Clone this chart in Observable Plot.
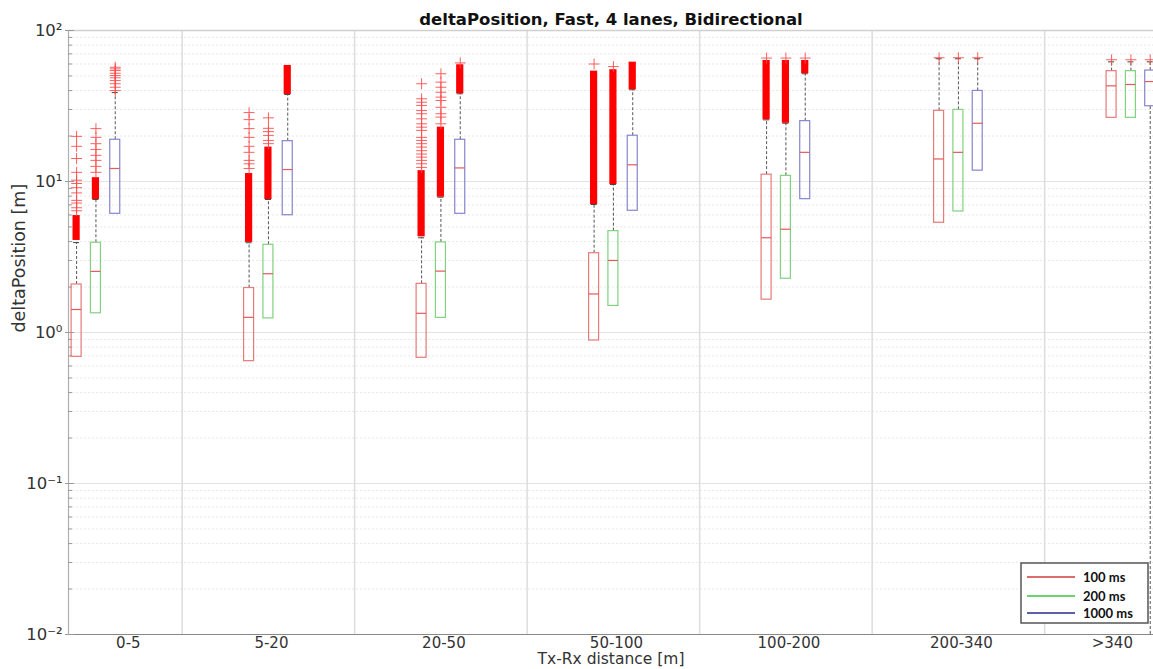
<!DOCTYPE html>
<html>
<head>
<meta charset="utf-8">
<script src="https://cdn.jsdelivr.net/npm/d3@7"></script>
<script src="https://cdn.jsdelivr.net/npm/@observablehq/plot@0.6"></script>
<style>
  body { margin: 0; background: #fff; }
  #chart { position: relative; width: 1153px; height: 669px; overflow: hidden; }
</style>
</head>
<body>
<div id="chart"></div>
<script>
// Distance bins and update intervals
const groups = ["0-5", "5-20", "20-50", "50-100", "100-200", "200-340", ">340"];
const series = ["100 ms", "200 ms", "1000 ms"];

// Box statistics per interval, one value per distance bin [m]
const q1_100  = [0.69, 0.646, 0.68, 0.885, 1.65, 5.33, 26.4];
const med_100 = [1.42, 1.26, 1.34, 1.80, 4.24, 14.1, 43.0];
const q3_100  = [2.08, 1.97, 2.10, 3.35, 11.1, 29.4, 53.8];
const lo_100  = [0.69, 0.646, 0.68, 0.885, 1.65, 5.33, 26.4];
const hi_100  = [3.94, 3.93, 4.24, 7.04, 25.6, 65.0, 62.0];

const q1_200  = [1.34, 1.24, 1.25, 1.50, 2.27, 6.33, 26.4];
const med_200 = [2.54, 2.45, 2.55, 3.00, 4.83, 15.6, 43.9];
const q3_200  = [3.93, 3.81, 3.95, 4.69, 10.9, 29.8, 53.8];
const lo_200  = [1.34, 1.24, 1.25, 1.50, 2.27, 6.33, 26.4];
const hi_200  = [7.6, 7.6, 7.87, 9.55, 24.3, 65.0, 62.0];

const q1_1000  = [6.11, 5.98, 6.11, 6.4, 7.64, 11.8, 31.5];
const med_1000 = [12.2, 12.0, 12.3, 12.9, 15.6, 24.3, 45.9];
const q3_1000  = [18.9, 18.5, 18.9, 20.1, 25.1, 39.8, 54.3];
const lo_1000  = [6.11, 5.98, 6.11, 6.4, 7.64, 11.8, 0.01];
const hi_1000  = [38.8, 37.7, 38.1, 40.5, 51.7, 65.0, 62.0];

// Ranges packed so densely with outliers that they read as a solid bar
const band_100  = [[4.07, 5.95], [3.95, 11.3], [4.3, 11.8], [7.04, 53.8], [25.6, 63.3], null, null];
const band_200  = [[7.6, 10.6], [7.6, 16.9], [7.87, 22.9], [9.55, 55.0], [24.3, 63.3], null, null];
const band_1000 = [null, [37.7, 58.7], [38.1, 59.3], [40.5, 61.7], [51.7, 63.3], null, null];

// Individual outliers
const out_100 = [
  [6.4, 6.7, 7.2, 7.5, 8.4, 9.1, 9.7, 10.2, 11.5, 14.2, 17.1, 19.9],
  [12.2, 13.1, 13.8, 15.6, 17.1, 19.6, 22.4, 25.7, 28.6],
  [12.4, 13.1, 13.8, 14.5, 15.2, 16.0, 16.9, 17.8, 18.7, 19.6, 21.8, 22.9, 24.1, 26.0, 28.1, 29.5, 31.9, 33.5, 35.3, 44.4],
  [60.0],
  [65.7],
  [66.0],
  [64.0]
];
const out_200 = [
  [11.5, 12.6, 13.8, 14.9, 16.3, 17.8, 19.6, 22.4],
  [17.8, 18.7, 20.2, 21.4, 22.5, 26.4],
  [24.1, 26.7, 28.1, 31.0, 34.4, 36.2, 39.0, 42.1, 45.5, 51.7],
  [57.7],
  [65.7],
  [66.0],
  [64.0]
];
const out_1000 = [
  [40.0, 42.1, 44.4, 46.6, 48.6, 50.3, 52.1, 54.3, 55.7, 57.1],
  [],
  [61.0],
  [],
  [65.7],
  [66.0],
  [64.0]
];

const yTicks = [0.01, 0.1, 1, 10, 100];

// ---- layout of the grouped boxes ----
const W = 1153, H = 669;
const mL = 68, mR = 0, mT = 30, mB = 35;
const xMin = -0.159, xMax = 6.131, axisEnd = 6.25;
const pxPerUnit = (W - mL - mR) / (xMax - xMin);
const u = px => px / pxPerUnit;
const offsets = [-0.112, 0, 0.112];
const boxColors = ["#e77a7a", "#7fd27f", "#8585cf"];
const legendColors = ["#d23b3b", "#3cc43c", "#2a2a8a"];

const stats = [
  {q1: q1_100, med: med_100, q3: q3_100, lo: lo_100, hi: hi_100, band: band_100, out: out_100},
  {q1: q1_200, med: med_200, q3: q3_200, lo: lo_200, hi: hi_200, band: band_200, out: out_200},
  {q1: q1_1000, med: med_1000, q3: q3_1000, lo: lo_1000, hi: hi_1000, band: band_1000, out: out_1000}
];

const boxes = [], bands = [], outliers = [];
stats.forEach((s, si) => {
  groups.forEach((g, gi) => {
    const x = gi + offsets[si];
    boxes.push({x, si, q1: s.q1[gi], med: s.med[gi], q3: s.q3[gi], lo: s.lo[gi], hi: s.hi[gi]});
    if (s.band[gi]) bands.push({x, lo: s.band[gi][0], hi: s.band[gi][1]});
    s.out[gi].forEach(v => outliers.push({x, v}));
  });
});

// Tick labels sit in the middle of each bin's visible span
const labels = groups.map((g, i) => ({
  g, x: (Math.max(i - 0.5, xMin) + Math.min(i + 0.5, axisEnd)) / 2 + u(3)
}));

const minor = [];
for (let k = -2; k < 2; k++) for (let m = 2; m <= 9; m++) minor.push(m * 10 ** k);
const separators = d3.range(0.5, 6, 1);

const sup = {"-": "\u207B", "0": "\u2070", "1": "\u00B9", "2": "\u00B2"};
const fmtPow = d => "10" + String(Math.round(Math.log10(d))).split("").map(c => sup[c]).join("");

const plot = Plot.plot({
  width: W, height: H,
  marginLeft: mL, marginRight: mR, marginTop: mT, marginBottom: mB,
  style: {fontFamily: "DejaVu Sans, sans-serif", background: "#fff", color: "#222"},
  x: {type: "linear", domain: [xMin, xMax], axis: null},
  y: {type: "log", domain: [0.01, 100], axis: null},
  marks: [
    // grid
    Plot.ruleY(minor, {stroke: "#e8e8e8", strokeDasharray: "2,2"}),
    Plot.ruleY(yTicks, {stroke: "#e3e3e3"}),
    Plot.ruleX(separators, {stroke: "#dddddd", strokeWidth: 1.5}),
    // axis lines
    Plot.ruleY([100], {stroke: "#d0d0d0", strokeWidth: 1.5}),
    Plot.ruleX([xMin], {stroke: "#b0b0b0", strokeWidth: 1.2}),
    Plot.ruleY([0.01], {stroke: "#888", strokeWidth: 1.2}),
    // inward ticks
    Plot.ruleY(minor, {x1: xMin, x2: xMin + u(4), stroke: "#999"}),
    Plot.ruleY(yTicks, {x1: xMin - u(3), x2: xMin + u(6), stroke: "#999"}),
    // whiskers
    Plot.ruleX(boxes, {x: "x", y1: "q3", y2: "hi", stroke: "#555", strokeDasharray: "3,2", clip: true}),
    Plot.ruleX(boxes.filter(d => d.lo < d.q1), {x: "x", y1: "lo", y2: "q1", stroke: "#555", strokeDasharray: "3,2", clip: true}),
    Plot.ruleY(boxes, {y: "hi", x1: d => d.x - u(3), x2: d => d.x + u(3), stroke: "#444", clip: true}),
    // dense outlier runs
    Plot.rect(bands, {x1: d => d.x - u(3.6), x2: d => d.x + u(3.6), y1: "lo", y2: "hi", fill: "#ff0000", clip: true}),
    // individual outliers
    Plot.dot(outliers, {x: "x", y: "v", symbol: "plus", r: 3.6, stroke: "#ff4d4d", strokeWidth: 0.9, clip: true}),
    // boxes and medians
    Plot.rect(boxes, {x1: d => d.x - u(5), x2: d => d.x + u(5), y1: "q1", y2: "q3", fill: "none",
      stroke: d => boxColors[d.si], strokeWidth: 1.2, clip: true}),
    Plot.ruleY(boxes, {y: "med", x1: d => d.x - u(5), x2: d => d.x + u(5), stroke: "#e25a5a", strokeWidth: 1.2, clip: true}),
    // tick labels
    Plot.text(yTicks, {x: xMin, y: d => d, text: fmtPow, textAnchor: "end", dx: -6, fontSize: 16.5, fill: "#333"}),
    Plot.text(labels, {x: "x", y: 0.01, text: "g", dy: 9, fontSize: 15, fill: "#333"}),
    // titles
    Plot.text(["deltaPosition, Fast, 4 lanes, Bidirectional"], {frameAnchor: "top", lineAnchor: "middle", dy: -11, fontSize: 16.5, fontWeight: "bold", fill: "#111"}),
    Plot.text(["Tx-Rx distance [m]"], {frameAnchor: "bottom", lineAnchor: "middle", dy: 25, fontSize: 15.5, fill: "#333"}),
    Plot.text(["deltaPosition [m]"], {frameAnchor: "left", dx: -49, rotate: -90, fontSize: 17.5, fill: "#333"})
  ]
});

document.getElementById("chart").appendChild(plot);

// Legend box in the lower right corner of the axes
const lg = d3.select(plot).append("g").attr("transform", "translate(1021,563)");
lg.append("rect").attr("width", 127).attr("height", 60).attr("fill", "#fff")
  .attr("stroke", "#555").attr("stroke-width", 1.5);
series.forEach((s, i) => {
  const y = [14, 33, 50][i];
  lg.append("line").attr("x1", 6).attr("x2", 54).attr("y1", y).attr("y2", y)
    .attr("stroke", legendColors[i]).attr("stroke-width", 1.5);
  lg.append("text").attr("x", 62).attr("y", y).attr("dy", "0.35em")
    .attr("text-anchor", "start")
    .attr("font-family", "Lato, sans-serif").attr("font-weight", "bold").attr("font-size", 13)
    .attr("fill", "#111").text(s);
});
</script>
</body>
</html>
